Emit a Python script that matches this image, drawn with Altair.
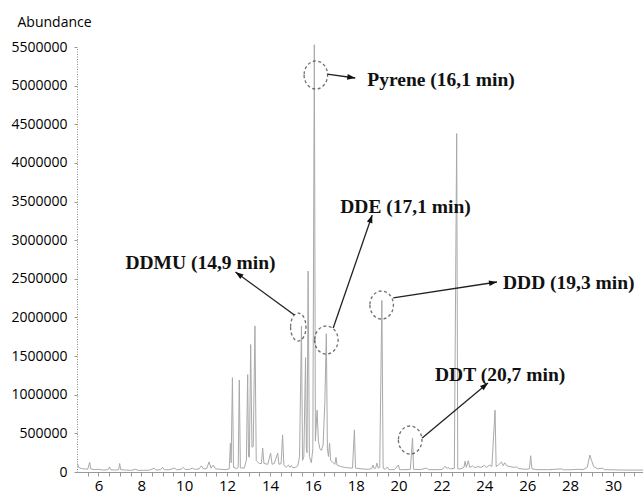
import altair as alt
import pandas as pd

# Chromatogram trace (retention time in min, abundance)
rt = [5.03, 5.08, 5.2, 5.35, 5.5, 5.59, 5.64, 5.8, 6.0, 6.2, 6.45, 6.52, 6.57, 6.8, 6.94, 6.99, 7.04, 7.3, 7.5,
      7.74, 7.85, 8.1, 8.4, 8.6, 8.68, 8.9, 8.99, 9.08, 9.3, 9.56, 9.65, 9.85, 9.96, 10.06, 10.25, 10.38, 10.48,
      10.7, 10.8, 10.9, 11.05, 11.16, 11.25, 11.36, 11.46, 11.7, 11.95, 12.1, 12.155, 12.19, 12.25, 12.3, 12.45,
      12.52, 12.57, 12.62, 12.8, 12.9, 12.96, 13.0, 13.04, 13.1, 13.16, 13.22, 13.3, 13.36, 13.5, 13.6, 13.66,
      13.72, 13.9, 14.03, 14.1, 14.2, 14.36, 14.42, 14.52, 14.59, 14.65, 14.75, 14.86, 14.93, 15.0, 15.07, 15.2,
      15.3, 15.38, 15.47, 15.52, 15.58, 15.66, 15.7, 15.73, 15.78, 15.84, 15.93, 16.0, 16.07, 16.12, 16.2, 16.26,
      16.33, 16.4, 16.48, 16.56, 16.63, 16.68, 16.73, 16.78, 16.83, 16.95, 17.03, 17.08, 17.13, 17.3, 17.6, 17.85,
      17.94, 17.99, 18.3, 18.6, 18.75, 18.8, 18.86, 18.93, 18.99, 19.05, 19.12, 19.22, 19.28, 19.38, 19.48, 19.55,
      19.8, 19.99, 20.05, 20.3, 20.55, 20.65, 20.7, 21.0, 21.3, 21.4, 21.8, 22.05, 22.17, 22.25, 22.3, 22.4, 22.6,
      22.71, 22.76, 22.9, 23.05, 23.1, 23.16, 23.25, 23.32, 23.45, 23.55, 23.7, 23.85, 24.0, 24.1, 24.25, 24.35,
      24.5, 24.55, 24.65, 24.8, 24.88, 24.95, 25.05, 25.2, 25.35, 25.5, 25.6, 25.9, 26.1, 26.16, 26.22, 26.5, 27.0,
      27.6, 27.7, 28.1, 28.4, 28.6, 28.8, 28.92, 29.0, 29.1, 29.3, 29.5, 29.6, 30.0, 30.5, 31.0, 31.4]
abundance = [110000, 60000, 45000, 40000, 35000, 125000, 40000, 30000, 35000, 25000, 30000, 65000, 28000, 25000,
             30000, 110000, 30000, 25000, 20000, 35000, 20000, 22000, 25000, 50000, 25000, 30000, 60000, 28000,
             30000, 50000, 28000, 35000, 60000, 30000, 35000, 50000, 35000, 40000, 80000, 40000, 45000, 130000,
             50000, 90000, 40000, 35000, 30000, 40000, 370000, 120000, 1220000, 60000, 45000, 60000, 1190000, 55000,
             50000, 150000, 1260000, 200000, 190000, 1650000, 320000, 330000, 1890000, 150000, 110000, 110000,
             310000, 110000, 100000, 245000, 100000, 110000, 245000, 100000, 110000, 480000, 90000, 60000, 90000,
             60000, 85000, 55000, 60000, 80000, 200000, 1890000, 150000, 200000, 1480000, 300000, 250000, 2600000,
             200000, 120000, 300000, 5530000, 400000, 800000, 400000, 300000, 280000, 350000, 900000, 1790000,
             300000, 200000, 375000, 150000, 120000, 100000, 190000, 90000, 70000, 55000, 50000, 545000, 50000,
             40000, 35000, 45000, 90000, 45000, 50000, 115000, 50000, 60000, 2220000, 50000, 35000, 65000, 30000,
             30000, 90000, 30000, 30000, 35000, 440000, 35000, 30000, 50000, 30000, 30000, 35000, 75000, 45000,
             60000, 40000, 45000, 4380000, 40000, 40000, 60000, 140000, 60000, 145000, 60000, 80000, 55000, 70000,
             60000, 85000, 60000, 90000, 70000, 800000, 70000, 90000, 130000, 80000, 120000, 80000, 70000, 60000,
             65000, 45000, 35000, 40000, 210000, 40000, 30000, 30000, 40000, 28000, 30000, 35000, 30000, 60000,
             220000, 150000, 70000, 40000, 50000, 30000, 28000, 25000, 25000, 25000]

# Annotations: Pyrene, DDE, DDMU, DDD, DDT
labels = ["Pyrene (16,1 min)", "DDE (17,1 min)", "DDMU (14,9 min)", "DDD (19,3 min)", "DDT (20,7 min)"]
label_x = [18.54, 17.28, 7.26, 24.87, 21.70]
label_y = [5073000, 3429000, 2705000, 2446000, 1255000]
circle_x = [16.14, 16.63, 15.32, 19.21, 20.54]
circle_y = [5138000, 1708000, 1876000, 2161000, 414000]
arrow_x1 = [16.67, 16.95, 15.14, 19.75, 21.10]
arrow_y1 = [5150000, 1863000, 2032000, 2252000, 440000]
arrow_x2 = [17.98, 18.77, 12.39, 24.59, 24.17]
arrow_y2 = [5099000, 3326000, 2588000, 2459000, 1152000]
arrow_angle = [98, 19, 306, 81, 50]

# Axis ticks (labels on even minutes, minor ticks every half minute)
x_ticks = [5.5, 6, 6.5, 7, 7.5, 8, 8.5, 9, 9.5, 10, 10.5, 11, 11.5, 12, 12.5, 13, 13.5, 14, 14.5, 15, 15.5,
           16, 16.5, 17, 17.5, 18, 18.5, 19, 19.5, 20, 20.5, 21, 21.5, 22, 22.5, 23, 23.5, 24, 24.5, 25, 25.5,
           26, 26.5, 27, 27.5, 28, 28.5, 29, 29.5, 30, 30.5, 31]
y_labels = [0, 500000, 1000000, 1500000, 2000000, 2500000, 3000000, 3500000, 4000000,
            4500000, 5000000, 5500000]

WIDE = "M -0.84 0 A 0.84 1 0 1 0 0.84 0 A 0.84 1 0 1 0 -0.84 0 Z"
NARROW = "M -0.55 0 A 0.55 1 0 1 0 0.55 0 A 0.55 1 0 1 0 -0.55 0 Z"
circle_shape = [WIDE, WIDE, NARROW, WIDE, WIDE]
HEAD = "M 0 0 L 0.36 1 L -0.36 1 Z"

trace = pd.DataFrame({"rt": rt, "abundance": abundance})
ann = pd.DataFrame({
    "label": labels, "lx": label_x, "ly": label_y,
    "cx": circle_x, "cy": circle_y, "shape": circle_shape,
    "x1": arrow_x1, "y1": arrow_y1, "x2": arrow_x2, "y2": arrow_y2,
    "angle": arrow_angle,
})

xscale = alt.Scale(domain=[5.0, 31.4], nice=False, zero=False)
yscale = alt.Scale(domain=[0, 5500000], nice=False)

x_axis = alt.Axis(
    values=x_ticks, labelExpr="datum.value % 2 === 0 ? '' + datum.value : ''",
    labelFont="Open Sans", labelFontSize=15, labelColor="#000", labelPadding=2,
    tickSize=4, tickColor="#999", domainColor="#999", grid=False, title=None,
    labelOverlap=False, labelFlush=False)
y_axis = alt.Axis(
    values=y_labels, format="d",
    labelFont="Open Sans", labelFontSize=14, labelColor="#000", labelPadding=7,
    tickSize=3, tickColor="#999", domainColor="#888", domainDash=[1, 1.5], grid=False,
    title="Abundance", titleAngle=0, titleX=-60, titleY=-25, titleAlign="left",
    titleBaseline="middle", titleFont="Open Sans", titleFontSize=14,
    titleFontWeight="normal", titleColor="#000", labelFlush=False, labelOverlap=False)

line = alt.Chart(trace).mark_line(color="#a9a9a9", strokeWidth=1, clip=False).encode(
    x=alt.X("rt:Q", scale=xscale, axis=x_axis),
    y=alt.Y("abundance:Q", scale=yscale, axis=y_axis),
)

circles = alt.Chart(ann).mark_point(filled=False, stroke="#333", strokeWidth=1.3,
                                    strokeDash=[3, 2.5], clip=False).encode(
    x=alt.X("cx:Q", scale=xscale, axis=x_axis),
    y=alt.Y("cy:Q", scale=yscale, axis=y_axis),
    shape=alt.Shape("shape:N", scale=None),
    size=alt.value(784),
)

arrows = alt.Chart(ann).mark_rule(color="#222", strokeWidth=1.3).encode(
    x=alt.X("x1:Q", scale=xscale, axis=x_axis),
    y=alt.Y("y1:Q", scale=yscale, axis=y_axis),
    x2="x2:Q", y2="y2:Q",
)

heads = alt.Chart(ann).mark_point(filled=True, color="#111", opacity=1, shape=HEAD).encode(
    x=alt.X("x2:Q", scale=xscale, axis=x_axis),
    y=alt.Y("y2:Q", scale=yscale, axis=y_axis),
    angle=alt.Angle("angle:Q", scale=None),
    size=alt.value(256),
)

texts = alt.Chart(ann).mark_text(align="left", baseline="middle", font="Liberation Serif",
                                 fontWeight="bold", fontSize=19.5, color="#111").encode(
    x=alt.X("lx:Q", scale=xscale, axis=x_axis),
    y=alt.Y("ly:Q", scale=yscale, axis=y_axis),
    text="label:N",
)

chart = alt.layer(line, circles, arrows, heads, texts).properties(
    width=566, height=425,
    padding={"left": 77, "top": 47, "right": 0, "bottom": 26},
    autosize="none",
    background="white",
).configure_view(strokeWidth=0)

chart.save("out.html", embed_options={"renderer": "svg", "actions": False})
